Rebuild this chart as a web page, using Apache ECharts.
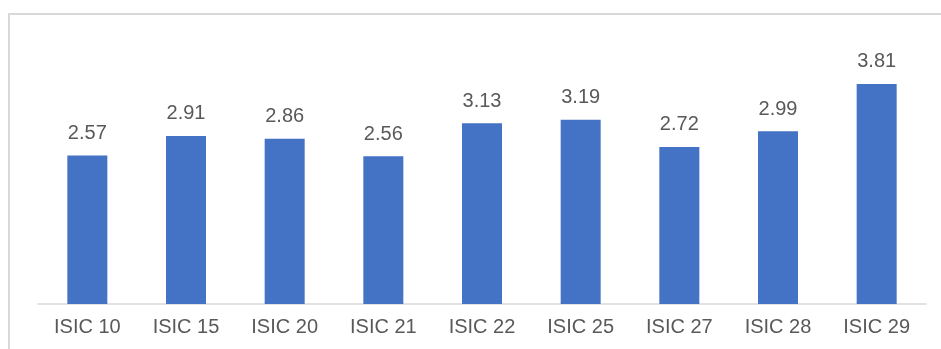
<!DOCTYPE html>
<html lang="en">
<head>
    <meta charset="UTF-8">
    <title>ISIC</title>
    <style>
        html, body { margin: 0; padding: 0; background: #fff; }
        #main { width: 941px; height: 349px; }
    </style>
</head>
<body>
<div id="main"></div>
<script src="https://cdn.jsdelivr.net/npm/echarts@6/dist/echarts.min.js"></script>
<script>
    // 行业分类
    var categories = ['ISIC 10', 'ISIC 15', 'ISIC 20', 'ISIC 21', 'ISIC 22', 'ISIC 25', 'ISIC 27', 'ISIC 28', 'ISIC 29'];
    // 数值
    var values = [2.57, 2.91, 2.86, 2.56, 3.13, 3.19, 2.72, 2.99, 3.81];

    var myChart = echarts.init(document.getElementById('main'));
    var option = {
        animation: false,
        backgroundColor: '#ffffff',
        graphic: [{
            type: 'rect',
            shape: { x: 9, y: 14, width: 960, height: 360 },
            style: { fill: 'none', stroke: '#d9d9d9', lineWidth: 2 },
            silent: true
        }],
        grid: { left: 38, right: 15, top: 73, bottom: 45 },
        xAxis: {
            type: 'category',
            data: categories,
            axisLine: { lineStyle: { color: '#d9d9d9', width: 1.5 } },
            axisTick: { show: false },
            axisLabel: {
                color: '#595959',
                fontFamily: 'Liberation Sans, Arial, sans-serif',
                fontSize: 20,
                margin: 13
            }
        },
        yAxis: {
            type: 'value',
            min: 0,
            max: 4,
            show: false
        },
        series: [{
            type: 'bar',
            data: values,
            barWidth: 40,
            itemStyle: { color: '#4472c4' },
            label: {
                show: true,
                position: 'top',
                distance: 12,
                color: '#595959',
                fontFamily: 'Liberation Sans, Arial, sans-serif',
                fontSize: 20
            }
        }]
    };
    myChart.setOption(option);
</script>
</body>
</html>
